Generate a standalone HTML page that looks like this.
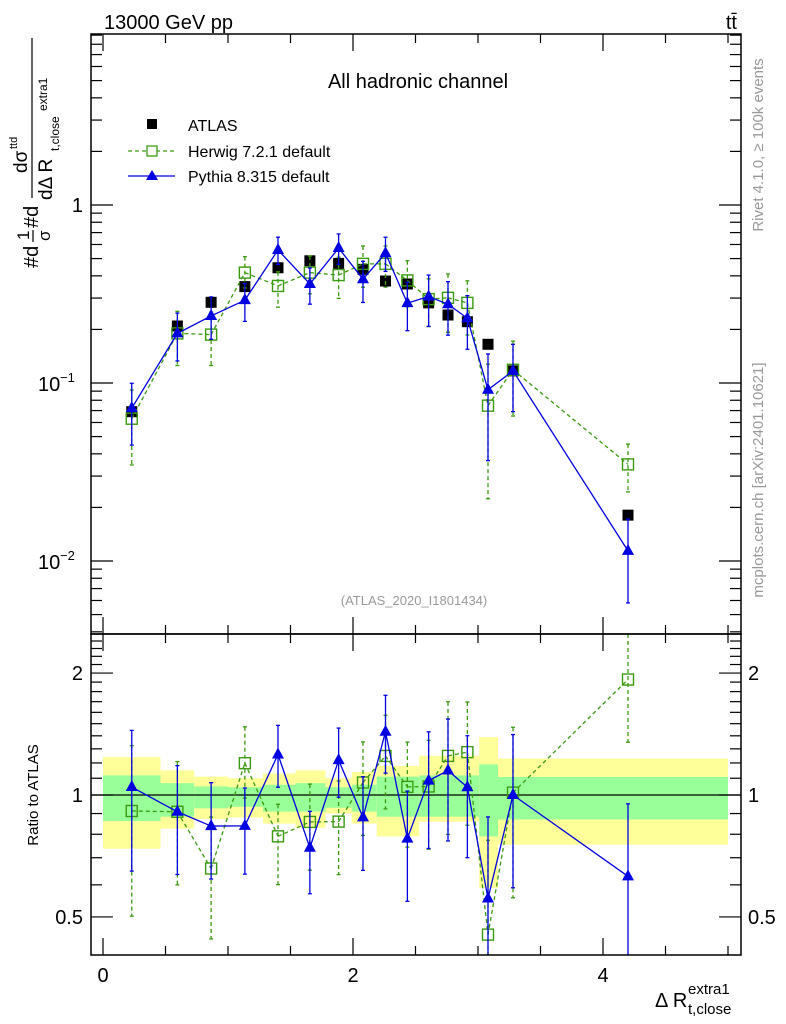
<!DOCTYPE html>
<html><head><meta charset="utf-8"><style>
html,body{margin:0;padding:0;background:#fff;width:786px;height:1024px;overflow:hidden;}
svg{display:block;font-family:"Liberation Sans",sans-serif;}
</style></head><body>
<svg id="chart" width="786" height="1024" viewBox="0 0 786 1024" xmlns="http://www.w3.org/2000/svg" overflow="hidden">
<g id="bands"></g>
<g id="marks"></g>
<g id="axes"></g>
<text x="104" y="29" font-size="20">13000 GeV pp</text>
<text x="737" y="29" font-size="20" text-anchor="end">tt̄</text>
<text x="418" y="88" font-size="20" text-anchor="middle">All hadronic channel</text>
<text x="414" y="605" font-size="13" fill="#999" text-anchor="middle">(ATLAS_2020_I1801434)</text>
<g>
  <g>
    <rect x="147" y="119" width="10" height="10" fill="#000"/>
    <text x="188" y="131" font-size="16">ATLAS</text>
  </g>
  <g>
    <line x1="128" y1="151" x2="175" y2="151" stroke="#3a9a10" stroke-width="1.3" stroke-dasharray="4,3"/>
    <rect x="147" y="146" width="10" height="10" fill="#fff" stroke="#3a9a10" stroke-width="1.3"/>
    <text x="188" y="157" font-size="16">Herwig 7.2.1 default</text>
  </g>
  <g>
    <line x1="128" y1="176" x2="175" y2="176" stroke="#0000e0" stroke-width="1.3"/>
    <polygon points="152,170 158,180 146,180" fill="#0000e0"/>
    <text x="188" y="182" font-size="16">Pythia 8.315 default</text>
  </g>
</g>
<text transform="translate(763,145) rotate(-90)" font-size="15" fill="#999" text-anchor="middle">Rivet 4.1.0, ≥ 100k events</text>
<text transform="translate(763,480) rotate(-90)" font-size="15" fill="#999" text-anchor="middle">mcplots.cern.ch [arXiv:2401.10621]</text>
<g transform="translate(38,268) rotate(-90)" font-size="20">
  <text x="0" y="0">#d</text>
  <text x="28" y="-9" font-size="17">1</text>
  <line x1="26" y1="-5" x2="38" y2="-5" stroke="#000" stroke-width="1.2"/>
  <text x="27" y="12" font-size="17">σ</text>
  <text x="40" y="0">#d</text>
  <text x="95" y="-11" font-size="19">dσ</text>
  <text x="119" y="-21" font-size="11">ttd</text>
  <line x1="70" y1="-6" x2="230" y2="-6" stroke="#000" stroke-width="1.2"/>
  <text x="68" y="14" font-size="19">dΔ R</text>
  <text x="117" y="21" font-size="12">t,close</text>
  <text x="157" y="9" font-size="12">extra1</text>
</g>
<text transform="translate(38,795) rotate(-90)" font-size="15" text-anchor="middle">Ratio to ATLAS</text>
<g>
  <text x="655" y="1007" font-size="20">Δ R</text>
  <text x="688" y="994" font-size="15">extra1</text>
  <text x="688" y="1014" font-size="15">t,close</text>
</g>
</svg>
<script>
// ---- data ----
const xCenters = [0.23,0.595,0.865,1.135,1.40,1.655,1.885,2.08,2.26,2.435,2.605,2.76,2.915,3.08,3.28,4.20];
const atlasValues = [0.069,0.209,0.284,0.348,0.444,0.486,0.47,0.435,0.374,0.36,0.282,0.241,0.221,0.165,0.117,0.0181];
const herwigValues = [0.063,0.190,0.187,0.417,0.351,0.417,0.404,0.467,0.467,0.377,0.296,0.301,0.282,0.0746,0.1186,0.0349];
const herwigErrUp = [0.45,0.33,0.34,0.23,0.20,0.24,0.26,0.26,0.26,0.29,0.30,0.36,0.33,0.71,0.45,0.30];
const herwigErrDown = [0.45,0.34,0.33,0.18,0.24,0.24,0.26,0.26,0.26,0.29,0.30,0.36,0.34,0.70,0.45,0.30];
const pythiaValues = [0.0722,0.190,0.238,0.292,0.559,0.360,0.573,0.383,0.536,0.281,0.306,0.277,0.231,0.0916,0.117,0.0114];
const pythiaErrUp = [0.38,0.30,0.28,0.24,0.18,0.23,0.20,0.26,0.23,0.31,0.32,0.34,0.34,0.59,0.41,0.51];
const pythiaErrDown = [0.38,0.30,0.26,0.24,0.17,0.23,0.19,0.26,0.21,0.30,0.32,0.33,0.33,0.60,0.41,0.49];
const bandEdges = [0,0.46,0.73,1.0,1.28,1.54,1.78,1.99,2.19,2.53,3.01,3.16,3.40,5.0];
const yellowHi = [1.24,1.15,1.11,1.10,1.13,1.15,1.10,1.14,1.18,1.25,1.39,1.23,1.23];
const yellowLo = [0.737,0.826,0.872,0.88,0.85,0.83,0.90,0.85,0.79,0.859,0.59,0.754,0.754];
const greenHi = [1.118,1.07,1.05,1.045,1.06,1.07,1.045,1.06,1.11,1.118,1.19,1.108,1.108];
const greenLo = [0.862,0.884,0.927,0.935,0.91,0.91,0.93,0.91,0.884,0.884,0.79,0.87,0.87];
const xTickLabels = ["0","2","4"];
const xTickValues = [0,2,4];
const ratioTickValues = [0.5,1,2];
const ratioTickLabels = ["0.5","1","2"];

// ---- axes ----
const L=91,R=741,T=34,MB=634,RB=955;
const X0=103, XS=125;
const sx = v => X0 + v*XS;
const sy = v => 205 - 178*Math.log10(Math.max(v,1e-6));
const sr = v => 795 - 405*Math.log10(Math.max(v,1e-6));
const NS="http://www.w3.org/2000/svg";
function el(tag, attrs, parent){const e=document.createElementNS(NS,tag);for(const k in attrs)e.setAttribute(k,attrs[k]);parent.appendChild(e);return e;}
const bands=document.getElementById('bands'), marks=document.getElementById('marks'), axes=document.getElementById('axes');

for(let i=0;i<bandEdges.length-1;i++){
  const x1=sx(bandEdges[i]), x2=sx(bandEdges[i+1]);
  const y=el('rect',{x:x1,y:sr(yellowHi[i]),width:x2-x1,height:sr(yellowLo[i])-sr(yellowHi[i]),fill:'#ffff99'},bands);
  
  
  const g=el('rect',{x:x1,y:sr(greenHi[i]),width:x2-x1,height:sr(greenLo[i])-sr(greenHi[i]),fill:'#99ff99'},bands);
  
  
}
el('line',{x1:L,y1:sr(1),x2:R,y2:sr(1),stroke:'#000','stroke-width':1.3},bands);

function series(vals, up, dn, color, dash, marker, name, yf, top, bot, ref){
  const cl = y => Math.min(bot, Math.max(top, y));
  const g=el('g',{},marks);
  
  
  const v=vals.map((d,i)=>ref?d/ref[i]:d);
  // line segments clipped to panel
  for(let i=0;i<xCenters.length-1;i++){
    let x1=sx(xCenters[i]), y1=yf(v[i]), x2=sx(xCenters[i+1]), y2=yf(v[i+1]);
    if(y2<top){const t=(top-y1)/(y2-y1); x2=x1+t*(x2-x1); y2=top;}
    if(y1<top){const t=(top-y2)/(y1-y2); x1=x2+t*(x1-x2); y1=top;}
    if(y2>bot){const t=(bot-y1)/(y2-y1); x2=x1+t*(x2-x1); y2=bot;}
    if(y1>bot){const t=(bot-y2)/(y1-y2); x1=x2+t*(x1-x2); y1=bot;}
    el('line',{x1:x1,y1:y1,x2:x2,y2:y2,stroke:color,'stroke-width':1.3,'stroke-dasharray':dash},g);
  }
  xCenters.forEach((x,i)=>{
    const cx=sx(x), hiR=yf(v[i]*(1+up[i])), loR=yf(v[i]*(1-dn[i]));
    const hi=cl(hiR), lo=cl(loR);
    el('line',{x1:cx,y1:hi,x2:cx,y2:lo,stroke:color,'stroke-width':1.3,'stroke-dasharray':dash},g);
    if(hiR>=top) el('line',{x1:cx-2,y1:hi,x2:cx+2,y2:hi,stroke:color,'stroke-width':1.3},g);
    if(loR<=bot) el('line',{x1:cx-2,y1:lo,x2:cx+2,y2:lo,stroke:color,'stroke-width':1.3},g);
    const cy=yf(v[i]);
    if(cy<top||cy>bot) return;
    let m;
    if(marker==='sq') m=el('rect',{x:cx-5.5,y:cy-5.5,width:11,height:11,fill:'none',stroke:color,'stroke-width':1.4},g);
    else m=el('polygon',{points:cx+','+(cy-7)+' '+(cx+6)+','+(cy+4)+' '+(cx-6)+','+(cy+4),fill:color},g);
    
    
  });
}
const ga=el('g',{},marks);


xCenters.forEach((x,i)=>{
  const r=el('rect',{x:sx(x)-5.5,y:sy(atlasValues[i])-5.5,width:11,height:11,fill:'#000'},ga);
  
  
});
series(herwigValues,herwigErrUp,herwigErrDown,'#3a9a10','4,3','sq','herwig-series',sy,T,MB,null);
series(pythiaValues,pythiaErrUp,pythiaErrDown,'#0000e0','','tri','pythia-series',sy,T,MB,null);
series(herwigValues,herwigErrUp,herwigErrDown,'#3a9a10','4,3','sq','herwig-ratio',sr,MB,RB,atlasValues);
series(pythiaValues,pythiaErrUp,pythiaErrDown,'#0000e0','','tri','pythia-ratio',sr,MB,RB,atlasValues);

el('rect',{x:L,y:T,width:R-L,height:MB-T,fill:'none',stroke:'#000','stroke-width':1.5},axes);
el('rect',{x:L,y:MB,width:R-L,height:RB-MB,fill:'none',stroke:'#000','stroke-width':1.5},axes);
for(let k=0; k<=10; k++){
  const v=k*0.5, x=sx(v), major=(k%4===0), len=major?17:9;
  [[T,1],[MB,-1],[MB,1],[RB,-1]].forEach(function(p){el('line',{x1:x,y1:p[0],x2:x,y2:p[0]+p[1]*len,stroke:'#000','stroke-width':1.2},axes);});
}
xTickValues.forEach((v,i)=>{const t=el('text',{x:sx(v),y:982,'font-size':20,'text-anchor':'middle'},axes);t.textContent=xTickLabels[i];
  
  });
for(let e=-3;e<=0;e++){for(let m=1;m<=9;m++){const v=m*Math.pow(10,e);const y=sy(v);if(y<T||y>MB)continue;
  const len=m===1?22:11;
  el('line',{x1:L,y1:y,x2:L+len,y2:y,stroke:'#000','stroke-width':1.2},axes);
  el('line',{x1:R,y1:y,x2:R-len,y2:y,stroke:'#000','stroke-width':1.2},axes);}}
const lab1=el('text',{x:83,y:212,'font-size':20,'text-anchor':'end'},axes);lab1.textContent='1';


[[-1,383],[-2,561]].forEach(function(p){const e=p[0],y=p[1];const t=el('text',{x:38,y:y+8,'font-size':20},axes);t.textContent='10';
  
  
  const s=el('text',{x:60,y:y-1,'font-size':13},axes);s.textContent='−'+(-e);});
[0.4,0.5,0.6,0.7,0.8,0.9,1,1.1,1.2,1.3,1.4,1.5,1.6,1.7,1.8,1.9,2,2.1,2.2,2.3,2.4,2.5].forEach(v=>{
  const y=sr(v); if(y<MB||y>RB)return; const major=(v===0.5||v===1||v===2); const len=major?22:11;
  el('line',{x1:L,y1:y,x2:L+len,y2:y,stroke:'#000','stroke-width':1.2},axes);
  el('line',{x1:R,y1:y,x2:R-len,y2:y,stroke:'#000','stroke-width':1.2},axes);});
ratioTickValues.forEach((v,i)=>{
  const a=el('text',{x:83,y:sr(v)+7,'font-size':20,'text-anchor':'end'},axes);a.textContent=ratioTickLabels[i];
  
  
  const b=el('text',{x:748,y:sr(v)+7,'font-size':20},axes);b.textContent=ratioTickLabels[i];
  
  
});
</script>
</body></html>
